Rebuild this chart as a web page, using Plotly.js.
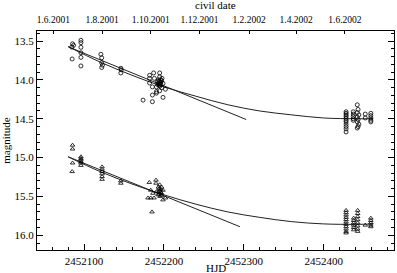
<!DOCTYPE html>
<html><head><meta charset="utf-8">
<script src="https://cdn.plot.ly/plotly-3.0.1.min.js"></script>
<style>html,body{margin:0;padding:0;background:#fff}#c{width:397px;height:273px}</style>
</head><body><div id="c"></div>
<script>
// Upper star (open circles)
const circX = [2452085.5,2452086.8,2452084.6,2452085,
  2452096,2452096,2452096,2452096,2452096,2452096,
  2452121,2452122,2452122,2452123,2452122,
  2452146,2452146.5,2452146,
  2452173.8,2452185.5,2452198.8,2452182,2452187,2452194.6,2452182,2452188,2452194.6,2452197.5,2452182,2452191.8,2452198.8,2452185.5,2452190.5,2452201.8,2452194.6,2452190.5,2452185.5,2452190.5,
  2452193,2452194,2452195,2452196,2452196,2452195,2452197,2452193,2452194,2452197,2452196,2452192,
  2452428,2452428,2452428,2452428,2452428,2452428,2452428,2452428,2452428,2452428,2452428,
  2452437,2452437,2452437,2452437,2452437,
  2452442,2452443,2452442,2452444,2452442,2452443,2452442,2452444,2452443,2452442,
  2452452,2452452,
  2452459,2452459,2452459,2452459,2452459];
const circY = [13.535,13.555,13.577,13.73,
  13.49,13.52,13.58,13.65,13.71,13.82,
  13.67,13.715,13.78,13.81,13.84,
  13.85,13.87,13.91,
  14.26,14.28,14.225,13.94,13.91,13.91,13.98,13.98,13.96,13.98,14.04,14.02,14.045,14.09,14.09,14.12,14.14,14.15,14.195,14.17,
  14.0,14.02,14.04,14.03,14.06,14.08,14.01,14.05,14.07,14.1,14.0,14.06,
  14.41,14.43,14.45,14.47,14.495,14.52,14.54,14.57,14.60,14.63,14.67,
  14.41,14.44,14.47,14.50,14.52,
  14.32,14.38,14.42,14.45,14.48,14.51,14.54,14.57,14.60,14.62,
  14.44,14.49,
  14.43,14.46,14.49,14.52,14.54];
// Lower star (open triangles)
const triX = [2452085.5,2452085.5,2452085.5,2452085,
  2452096,2452096,2452096,2452096,2452096,2452096,
  2452122.5,2452122.5,2452122.5,2452122.5,2452122.5,2452122.5,
  2452146,2452146,
  2452181.6,2452190,2452190,2452194.6,2452183.4,2452186.2,2452180,2452183.4,2452187.5,2452190.5,2452192.5,2452196.75,2452198.75,2452198.75,2452201.75,2452185,
  2452193,2452194,2452195,2452196,2452194,2452197,2452195,2452193,2452197,2452196,
  2452428,2452428,2452428,2452428,2452428,2452428,2452428,2452428,2452428,2452428,2452428,
  2452437.5,2452437.5,2452437.5,2452437.5,2452437.5,2452437.5,
  2452442.5,2452442.5,2452442.5,2452442.5,2452442.5,2452442.5,2452442.5,2452442.5,
  2452452,
  2452459,2452459,2452459,2452459,2452459];
const triY = [14.84,14.89,15.07,15.18,
  14.99,15.01,15.03,15.05,15.07,15.10,
  15.12,15.15,15.18,15.21,15.245,15.28,
  15.30,15.33,
  15.32,15.29,15.33,15.35,15.42,15.46,15.52,15.52,15.52,15.44,15.48,15.46,15.42,15.545,15.52,15.70,
  15.38,15.40,15.43,15.45,15.47,15.38,15.50,15.44,15.49,15.41,
  15.68,15.71,15.74,15.77,15.80,15.83,15.86,15.89,15.92,15.95,15.97,
  15.78,15.81,15.84,15.87,15.90,15.93,
  15.68,15.72,15.76,15.80,15.84,15.88,15.92,15.95,
  15.87,
  15.78,15.81,15.84,15.87,15.89];
// Fits
const upLinX = [2452080, 2452303];
const upLinY = [13.573, 14.51];
const upCurX = [2452080,2452120,2452160,2452200,2452240,2452280,2452320,2452360,2452400,2452440,2452462];
const upCurY = [13.57,13.77,13.94,14.09,14.21,14.32,14.40,14.45,14.49,14.50,14.50];
const loLinX = [2452080, 2452295];
const loLinY = [14.99, 15.89];
const loCurX = [2452080,2452120,2452160,2452200,2452240,2452280,2452320,2452360,2452400,2452440,2452462];
const loCurY = [14.99,15.18,15.34,15.48,15.60,15.70,15.77,15.825,15.854,15.86,15.855];
// Civil date axis
const civilJD = [2452061.5,2452122.5,2452183.5,2452244.5,2452306.5,2452365.5,2452426.5];
const civilText = ['1.6.2001','1.8.2001','1.10.2001','1.12.2001','1.2.2002','1.4.2002','1.6.2002'];

const xr = [2452041, 2452488];
const F = 'Liberation Serif, Times New Roman, serif';
const lineStyle = {color:'#222', width:1};
const mk = {size:4, color:'#000', line:{width:0.8}};
const traces = [
  {x:upLinX, y:upLinY, mode:'lines', line:lineStyle},
  {x:upCurX, y:upCurY, mode:'lines', line:Object.assign({shape:'spline'},lineStyle)},
  {x:loLinX, y:loLinY, mode:'lines', line:lineStyle},
  {x:loCurX, y:loCurY, mode:'lines', line:Object.assign({shape:'spline'},lineStyle)},
  {x:circX, y:circY, mode:'markers', marker:Object.assign({symbol:'circle-open'},mk)},
  {x:triX, y:triY, mode:'markers', marker:Object.assign({symbol:'triangle-up-open'},mk)},
  {x:civilJD, y:civilJD.map(()=>null), xaxis:'x2', mode:'markers'}
];
const layout = {
  width:397, height:273, showlegend:false,
  margin:{l:37, r:3, t:31, b:23},
  paper_bgcolor:'#fff', plot_bgcolor:'#fff',
  font:{family:F, color:'#000', size:11},
  xaxis:{range:xr, tickvals:[2452100,2452200,2452300,2452400], tickformat:'d',
    ticks:'inside', ticklen:6, tickcolor:'#000', showline:true, linecolor:'#000', linewidth:1,
    showgrid:false, zeroline:false, tickfont:{size:11, family:F}, ticklabelstandoff:1,
    minor:{dtick:20, tick0:2452000, ticks:'inside', ticklen:3, tickcolor:'#000'}},
  xaxis2:{range:xr, overlaying:'x', side:'top', tickmode:'array', tickvals:civilJD, ticktext:civilText,
    ticks:'inside', ticklen:3, tickcolor:'#000', showline:true, linecolor:'#000', linewidth:1,
    showgrid:false, zeroline:false, tickfont:{size:9.5, family:F}, ticklabelstandoff:3},
  yaxis:{range:[16.19, 13.37], tick0:13.5, dtick:0.5, tickformat:'.1f',
    ticks:'inside', ticklen:6, tickcolor:'#000', showline:true, linecolor:'#000', linewidth:1,
    mirror:'ticks', showgrid:false, zeroline:false, tickfont:{size:11, family:F},
    minor:{dtick:0.1, tick0:13.5, ticks:'inside', ticklen:3, tickcolor:'#000'},
    title:{text:'magnitude', font:{size:11, family:F}, standoff:2}},
  annotations:[
    {text:'HJD', xref:'paper', yref:'paper', x:0.5, y:-0.08, xanchor:'center', yanchor:'middle',
     showarrow:false, borderpad:0, font:{size:11, family:F}},
    {text:'civil date', xref:'paper', yref:'paper', x:0.5, y:1.118, xanchor:'center', yanchor:'middle',
     showarrow:false, borderpad:0, font:{size:11, family:F}}
  ]
};
Plotly.newPlot('c', traces, layout, {staticPlot:true});
</script></body></html>
